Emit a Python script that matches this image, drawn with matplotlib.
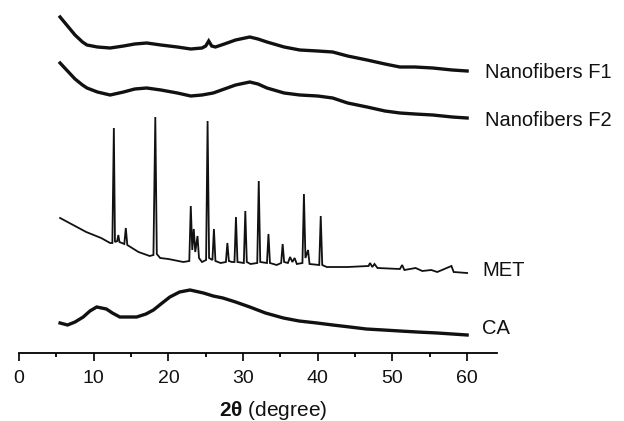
import numpy as np
import matplotlib
matplotlib.use("Agg")
import matplotlib.pyplot as plt
from matplotlib.ticker import MultipleLocator

plt.rcParams.update({
    "font.family": ["Liberation Sans", "DejaVu Sans"],
    "mathtext.fontset": "custom",
    "mathtext.rm": "Liberation Sans",
    "mathtext.bf": "Liberation Sans:bold",
})

# intensities are heights (px) above the 2θ axis
F1_X = [5.5, 6.5, 7.5, 8.5, 9.1, 10.5, 12.2, 14, 15.5, 17.1, 19, 21.2, 23, 24.5,
        25.0, 25.4, 25.8, 26.3, 27.5, 29, 30.9, 32, 33.2, 35.5, 37.6, 40, 42, 44,
        46.6, 49, 51, 53, 55.4, 58, 60]
F1_PX = [17, 26, 35, 42, 45, 47, 48, 46, 44, 43, 45, 47, 49, 48,
         46, 41, 46, 47, 44, 40, 37, 39, 42, 47, 50, 51, 52, 56,
         60, 64, 67, 67, 68, 70, 71]

F2_X = [5.5, 6.5, 7.5, 8.5, 9.1, 10.5, 12.2, 14, 15.5, 17.1, 19, 21.2, 23, 24.5,
        26, 27.5, 29, 30.9, 32, 33.2, 35.5, 37.6, 40, 42, 44, 46.6, 49, 51, 53,
        55.4, 58, 60]
F2_PX = [63, 71, 79, 85, 88, 92, 95, 92, 89, 88, 90, 93, 96, 95,
         93, 89, 85, 82, 84, 88, 93, 95, 96, 98, 103, 107, 111, 113, 114,
         115, 117, 118]

MET_X = [5.5, 7, 9, 11, 12.2, 12.5, 12.7, 12.85, 13.15, 13.3, 13.45, 14.1, 14.3, 14.5,
         16, 17.5, 18.0, 18.25, 18.45, 18.9, 20, 22, 22.8, 23.0, 23.2, 23.4, 23.6,
         23.9, 24.1, 24.5, 25.05, 25.25, 25.45, 25.9, 26.1, 26.3, 27, 27.7, 27.9,
         28.1, 28.5, 28.85, 29.05, 29.25, 30.1, 30.3, 30.5, 31, 31.9, 32.1, 32.3,
         33.2, 33.4, 33.6, 34.5, 35.1, 35.3, 35.5, 36.0, 36.3, 36.6, 36.9, 37.2,
         37.95, 38.15, 38.35, 38.7, 38.9, 40.2, 40.4, 40.6, 41.2, 44, 46.8, 47.0,
         47.3, 47.6, 48, 51, 51.3, 51.6, 53.1, 54, 55.2, 56, 57.9, 58.2, 60]
MET_PX = [218, 224, 232, 238, 243, 243, 128, 242, 241, 235, 242, 244, 228, 245,
          252, 256, 255, 117, 254, 258, 259, 262, 261, 206, 250, 229, 252,
          236, 258, 262, 260, 121, 258, 260, 229, 261, 263, 262, 243,
          261, 262, 262, 217, 262, 263, 211, 262, 264, 263, 181, 262,
          263, 234, 263, 265, 263, 244, 262, 263, 257, 262, 258, 264,
          263, 194, 258, 250, 264, 265, 216, 265, 267, 267, 266, 263,
          267, 264, 268, 269, 265, 270, 268, 271, 270, 272, 266, 272, 273]

CA_X = [5.5, 6.5, 7.5, 8.6, 9.5, 10.4, 11.7, 12.5, 13.5, 15.75, 17, 18, 19, 20.2,
        21.5, 22.9, 24.7, 26, 27.3, 29, 30.9, 33, 35.4, 37.5, 39.9, 42, 44.3,
        46.5, 48.8, 51, 53.3, 56, 58, 60]
CA_PX = [323, 325, 322, 317, 311, 307, 309, 313, 317, 317, 314, 310, 304, 297,
         292, 290, 293, 296, 298, 302, 307, 313, 318, 321, 323, 325, 327,
         329, 330, 331, 332, 333, 334, 335]

AXIS_PX = 353
NAMES = ["Nanofibers F1", "Nanofibers F2", "MET", "CA"]
LABEL_X = [62.4, 62.4, 62.0, 62.0]
LABEL_PX = [72, 121, 270, 328]

fig = plt.figure(figsize=(6.24, 4.21), dpi=100)
ax = fig.add_axes([19 / 624, 68 / 421, 478 / 624, 353 / 421])

for xs, px, lw in [(F1_X, F1_PX, 2.4), (F2_X, F2_PX, 2.4),
                   (MET_X, MET_PX, 1.3), (CA_X, CA_PX, 2.4)]:
    ax.plot(xs, AXIS_PX - np.array(px), color="#111111", lw=lw,
            solid_joinstyle="miter", clip_on=False)

for name, lx, ly in zip(NAMES, LABEL_X, LABEL_PX):
    ax.text(lx, AXIS_PX - ly, name, fontsize=14.5, ha="left", va="center",
            color="#111111", clip_on=False)

ax.set_xlim(0, 64)
ax.set_ylim(0, AXIS_PX)
for s in ["left", "right", "top"]:
    ax.spines[s].set_visible(False)
ax.spines["bottom"].set_linewidth(1.3)
ax.set_yticks([])
ax.xaxis.set_minor_locator(MultipleLocator(5))
ax.set_xticks(np.arange(0, 61, 10))
ax.tick_params(axis="x", which="major", length=6, width=1.3, labelsize=14, pad=6,
               colors="#111111")
ax.tick_params(axis="x", which="minor", length=3, width=1.3)
ax.set_xlabel(r"$\mathbf{2\theta}$ (degree)", fontsize=15, color="#111111")
ax.xaxis.set_label_coords((273 - 19) / 478, -57 / 353)
ax.xaxis.label.set_va("center")

fig.savefig("out.png", dpi=100)
